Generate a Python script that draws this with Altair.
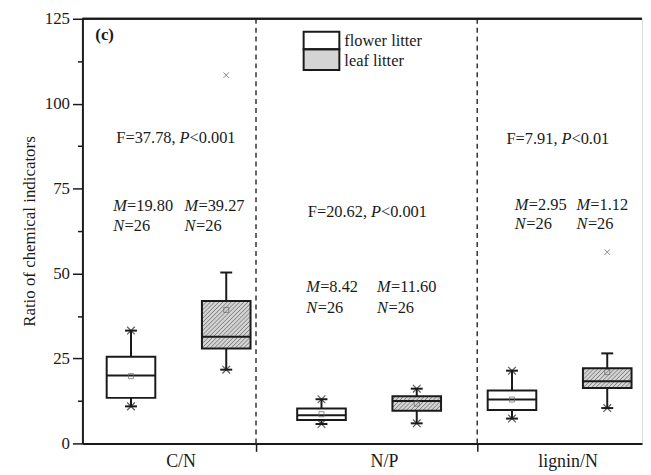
import math
import altair as alt
import pandas as pd

# ---------------- data ----------------
CATEGORIES = ["C/N", "N/P", "lignin/N"]
GROUPS = ["flower litter", "leaf litter"]
# order: C/N flower, C/N leaf, N/P flower, N/P leaf, lignin/N flower, lignin/N leaf
BOX_CAT = ["C/N", "C/N", "N/P", "N/P", "lignin/N", "lignin/N"]
BOX_GROUP = ["flower litter", "leaf litter"] * 3
WHISK_LO = [10.9, 21.7, 5.7, 5.9, 7.3, 10.4]
Q1 = [13.4, 27.9, 6.9, 9.6, 9.8, 16.3]
MEDIAN = [20.0, 31.4, 8.3, 12.5, 12.9, 18.3]
Q3 = [25.5, 41.9, 10.3, 13.9, 15.6, 22.1]
WHISK_HI = [33.2, 50.3, 13.0, 16.1, 21.4, 26.5]
MEAN_MARK = [19.8, 39.3, 8.6, 11.7, 12.9, 21.0]
CROSS_LO = [True, True, True, True, True, True]
CROSS_HI = [True, False, True, True, True, False]
OUTLIER_BOX = [1, 5]
OUTLIER_VAL = [108.4, 56.3]

F_STAT = ["F=37.78,", "F=20.62,", "F=7.91,"]
P_STAT = ["<0.001", "<0.001", "<0.01"]
M_VALUE = ["=19.80", "=39.27", "=8.42", "=11.60", "=2.95", "=1.12"]
N_VALUE = ["=26", "=26", "=26", "=26", "=26", "=26"]

Y_TICKS = [0, 12.5, 25, 37.5, 50, 62.5, 75, 87.5, 100, 112.5, 125]

# ---------------- layout (positions in axis units) ----------------
BOX_POS = [1, 2, 3, 4, 5, 6]
DIVIDERS = [2.3125, 4.635]
CAT_LABEL_POS = [1.52, 3.656, 5.583]
F_X = [1.51, 3.52, 5.52]
F_Y = [89.8, 68.0, 89.6]
M_X = [0.8125, 1.5625, 2.84, 3.583, 5.03, 5.677]
M_Y = [69.9, 69.9, 45.9, 45.9, 70.3, 70.3]
N_Y = [64.1, 64.1, 39.9, 39.9, 64.5, 64.5]
LEG_X = [2.8125, 3.1875]
LEG_Y = [[116.0, 121.2], [109.9, 116.0]]
LEG_TEXT_X = 3.24
LEG_TEXT_Y = [118.4, 112.6]
TAG_X, TAG_Y = 0.625, 120.3

W, H = 564, 428
XDOM = [0.49, 6.365]
YDOM = [0, 125]
PXU = W / (XDOM[1] - XDOM[0])
PXV = H / (YDOM[1] - YDOM[0])
BOXW = 24.5 / PXU
CAPW = 6 / PXU

FONT = "Liberation Serif"
INK = "#1a1a1a"
LEAF_FILL = "#d4d4d4"
HATCH = "#7a7a7a"


def hatch(u0, u1, v0, v1, s=4.2):
    X0, X1, Y0, Y1 = u0 * PXU, u1 * PXU, v0 * PXV, v1 * PXV
    out = []
    kmin = math.floor((X0 - Y1) / s)
    kmax = math.ceil((X1 - Y0) / s)
    for i in range(kmin, kmax + 1):
        k = i * s
        xa = max(X0, Y0 + k)
        xb = min(X1, Y1 + k)
        if xb - xa > 0.6:
            out.append({"u": xa / PXU, "v": (xa - k) / PXV,
                        "u2": xb / PXU, "v2": (xb - k) / PXV})
    return out


boxes = pd.DataFrame({
    "cat": BOX_CAT, "group": BOX_GROUP, "pos": BOX_POS,
    "lo": WHISK_LO, "q1": Q1, "med": MEDIAN, "q3": Q3, "hi": WHISK_HI,
    "mean": MEAN_MARK,
})
boxes["left"] = boxes["pos"] - BOXW
boxes["right"] = boxes["pos"] + BOXW
boxes["capl"] = boxes["pos"] - CAPW
boxes["capr"] = boxes["pos"] + CAPW
boxes["fill"] = [("white" if g == GROUPS[0] else LEAF_FILL) for g in BOX_GROUP]

caps = pd.concat([
    boxes[["capl", "capr"]].assign(v=boxes["lo"]),
    boxes[["capl", "capr"]].assign(v=boxes["hi"]),
])
crosses = pd.DataFrame(
    [{"pos": p, "v": lo} for p, lo, c in zip(BOX_POS, WHISK_LO, CROSS_LO) if c]
    + [{"pos": p, "v": hi} for p, hi, c in zip(BOX_POS, WHISK_HI, CROSS_HI) if c]
)
outliers = pd.DataFrame({"pos": [BOX_POS[i] for i in OUTLIER_BOX], "v": OUTLIER_VAL})

hatch_rows = []
for _, r in boxes.iterrows():
    if r["group"] == GROUPS[1]:
        hatch_rows += hatch(r["left"], r["right"], r["q1"], r["q3"])
hatch_rows += hatch(LEG_X[0], LEG_X[1], LEG_Y[1][0], LEG_Y[1][1])
hatch_df = pd.DataFrame(hatch_rows)

legend = pd.DataFrame({
    "label": GROUPS, "x0": [LEG_X[0]] * 2, "x1": [LEG_X[1]] * 2,
    "y0": [LEG_Y[0][0], LEG_Y[1][0]], "y1": [LEG_Y[0][1], LEG_Y[1][1]],
    "fill": ["white", LEAF_FILL], "tx": [LEG_TEXT_X] * 2, "ty": LEG_TEXT_Y,
})

fdf = pd.DataFrame({"x": F_X, "y": F_Y, "f": F_STAT, "p": P_STAT})
mdf = pd.DataFrame({"x": M_X, "y": M_Y, "yn": N_Y, "m": M_VALUE, "n": N_VALUE})
tag = pd.DataFrame({"x": [TAG_X], "y": [TAG_Y], "t": ["(c)"]})
divs = pd.DataFrame({"x": DIVIDERS})

# ---------------- scales / axes ----------------
xscale = alt.Scale(domain=XDOM, nice=False, zero=False)
yscale = alt.Scale(domain=YDOM, nice=False, zero=False)

label_expr = " : ".join(
    f"abs(datum.value - {p}) < 0.001 ? '{c}'" for p, c in zip(CAT_LABEL_POS, CATEGORIES)
) + " : ''"
div_test = " || ".join(f"abs(datum.value - {d}) < 0.001" for d in DIVIDERS)

xaxis = alt.Axis(
    values=sorted(CAT_LABEL_POS + DIVIDERS), labelExpr=label_expr, title=None,
    grid=False, domainColor=INK, domainWidth=2, tickColor=INK, tickWidth=1.5,
    tickSize=8, tickOpacity={"condition": {"test": div_test, "value": 1}, "value": 0},
    labelFont=FONT, labelFontSize=18, labelColor=INK, labelPadding=1,
    labelFlush=False, labelOverlap=False,
)
yaxis = alt.Axis(
    values=Y_TICKS, labelExpr="datum.value % 25 == 0 ? datum.label : ''",
    title="Ratio of chemical indicators", titleFont=FONT, titleFontSize=17,
    titleFontWeight="normal", titleColor=INK, titlePadding=6,
    grid=False, domainColor=INK, domainWidth=2, tickColor=INK, tickWidth=1.5,
    tickSize={"condition": {"test": "datum.value % 25 != 0", "value": 5}, "value": 10},
    labelFont=FONT, labelFontSize=17, labelColor=INK, labelPadding=3,
    labelFlush=False, labelOverlap=False,
)


def X(f):
    return alt.X(f, type="quantitative", scale=xscale, axis=xaxis)


def Y(f):
    return alt.Y(f, type="quantitative", scale=yscale, axis=yaxis)


txt = dict(font=FONT, fontSize=16.5, color=INK, baseline="middle", align="left")

layers = [
    alt.Chart(divs).mark_rule(color="#333", strokeWidth=1.5, strokeDash=[5, 4]).encode(x=X("x")),
    alt.Chart(divs).mark_rule(color=INK, strokeWidth=2).encode(
        y=alt.value(0), x=alt.value(0), x2=alt.value(W)),
    alt.Chart(boxes).mark_rule(color=INK, strokeWidth=2).encode(
        x=X("pos"), y=Y("lo"), y2="hi"),
    alt.Chart(caps).mark_rule(color=INK, strokeWidth=2).encode(
        x=X("capl"), x2="capr", y=Y("v")),
    alt.Chart(boxes).mark_rect(strokeWidth=0).encode(
        x=X("left"), x2="right", y=Y("q1"), y2="q3",
        fill=alt.Fill("fill:N", scale=None)),
    alt.Chart(hatch_df).mark_rule(color=HATCH, strokeWidth=1).encode(
        x=X("u"), y=Y("v"), x2="u2", y2="v2"),
    alt.Chart(boxes).mark_rect(fill=None, stroke=INK, strokeWidth=2).encode(
        x=X("left"), x2="right", y=Y("q1"), y2="q3"),
    alt.Chart(boxes).mark_rule(color=INK, strokeWidth=2).encode(
        x=X("left"), x2="right", y=Y("med")),
    alt.Chart(boxes).mark_point(shape="square", filled=False, size=26,
                                color="#666", strokeWidth=1).encode(
        x=X("pos"), y=Y("mean")),
    alt.Chart(crosses).mark_point(shape="M-1,-1L1,1M-1,1L1,-1", size=60,
                                  color=INK, strokeWidth=1.2).encode(
        x=X("pos"), y=Y("v")),
    alt.Chart(outliers).mark_point(shape="M-1,-1L1,1M-1,1L1,-1", size=30,
                                   color="#555", strokeWidth=1).encode(
        x=X("pos"), y=Y("v")),
    alt.Chart(legend).mark_rect(strokeWidth=0).encode(
        x=X("x0"), x2="x1", y=Y("y0"), y2="y1", fill=alt.Fill("fill:N", scale=None)),
    alt.Chart(legend).mark_rect(fill=None, stroke=INK, strokeWidth=2).encode(
        x=X("x0"), x2="x1", y=Y("y0"), y2="y1"),
    alt.Chart(legend).mark_text(**txt).encode(x=X("tx"), y=Y("ty"), text="label:N"),
    alt.Chart(fdf).mark_text(**{**txt, "align": "right"}, dx=-4).encode(
        x=X("x"), y=Y("y"), text="f:N"),
    alt.Chart(fdf).mark_text(**txt, fontStyle="italic").encode(
        x=X("x"), y=Y("y"), text=alt.value("P")),
    alt.Chart(fdf).mark_text(**txt, dx=10).encode(x=X("x"), y=Y("y"), text="p:N"),
    alt.Chart(mdf).mark_text(**txt, fontStyle="italic").encode(
        x=X("x"), y=Y("y"), text=alt.value("M")),
    alt.Chart(mdf).mark_text(**txt, dx=14).encode(x=X("x"), y=Y("y"), text="m:N"),
    alt.Chart(mdf).mark_text(**txt, fontStyle="italic").encode(
        x=X("x"), y=Y("yn"), text=alt.value("N")),
    alt.Chart(mdf).mark_text(**txt, dx=11.5).encode(x=X("x"), y=Y("yn"), text="n:N"),
    alt.Chart(tag).mark_text(**{**txt, "fontSize": 17}, fontWeight="bold").encode(
        x=X("x"), y=Y("y"), text="t:N"),
]

chart = alt.layer(*layers).properties(
    width=W, height=H,
    padding={"left": 12, "top": 0, "right": 0, "bottom": 0},
).configure_view(stroke=None).configure(background="white")

chart.save("out.html", embed_options={"renderer": "svg", "actions": False})
